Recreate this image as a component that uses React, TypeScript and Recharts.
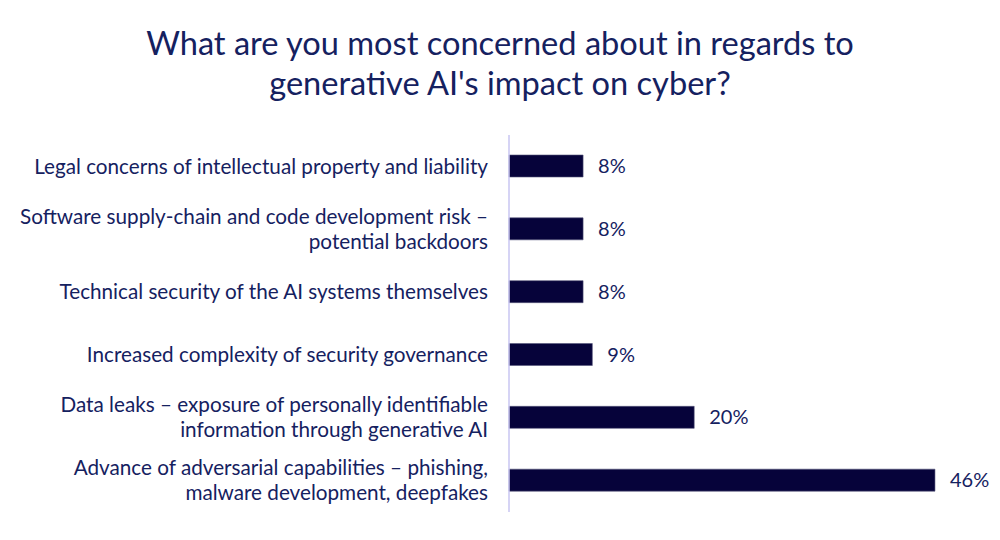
import { Bar, BarChart, LabelList, XAxis, YAxis } from 'recharts'

const TITLE = ['What are you most concerned about in regards to', "generative AI's impact on cyber?"]

const CATEGORIES = [
  'Legal concerns of intellectual property and liability',
  'Software supply-chain and code development risk –\npotential backdoors',
  'Technical security of the AI systems themselves',
  'Increased complexity of security governance',
  'Data leaks – exposure of personally identifiable\ninformation through generative AI',
  'Advance of adversarial capabilities – phishing,\nmalware development, deepfakes',
]

const SHARES = [8, 8, 8, 9, 20, 46]

const FONT = 'Lato, "Open Sans", sans-serif'
const NAVY = '#15215f'

const data = CATEGORIES.map((name, i) => ({ name, value: SHARES[i] }))

function CategoryTick({ x, y, payload }: any) {
  const lines = String(payload.value).split('\n')
  const lineHeight = 25
  const start = -((lines.length - 1) * lineHeight) / 2
  return (
    <text x={x} y={y} textAnchor="end" fill={NAVY} fontSize={20.7} fontFamily={FONT}>
      {lines.map((line, i) => (
        <tspan key={i} x={x} y={y + start + i * lineHeight} dy="0.35em">
          {line}
        </tspan>
      ))}
    </text>
  )
}

export default function App() {
  return (
    <div style={{ position: 'absolute', left: 0, top: 0, width: 1000, height: 540, background: '#fff' }}>
      <style>{'body{margin:0}'}</style>
      <div
        style={{
          position: 'absolute',
          top: 23,
          width: 1000,
          textAlign: 'center',
          fontFamily: FONT,
          fontSize: 32.6,
          lineHeight: '40px',
          color: NAVY,
        }}
      >
        {TITLE.map((line) => (
          <div key={line}>{line}</div>
        ))}
      </div>
      <BarChart
        width={1000}
        height={540}
        data={data}
        layout="vertical"
        margin={{ top: 135, right: 28, bottom: 28, left: 0 }}
        barCategoryGap={20}
      >
        <XAxis type="number" domain={[0, 50]} hide />
        <YAxis
          type="category"
          dataKey="name"
          width={509}
          tickLine={false}
          tickSize={0}
          tickMargin={21}
          axisLine={{ stroke: '#c9c6f2', strokeWidth: 1.5 }}
          tick={<CategoryTick />}
          interval={0}
        />
        <Bar dataKey="value" fill="#06033a" stroke="#55557a" strokeWidth={0.6} barSize={22} isAnimationActive={false}>
          <LabelList
            dataKey="value"
            position="right"
            offset={15}
            formatter={(v: any) => `${v}%`}
            fill={NAVY}
            fontSize={20}
            fontFamily={FONT}
          />
        </Bar>
      </BarChart>
    </div>
  )
}
